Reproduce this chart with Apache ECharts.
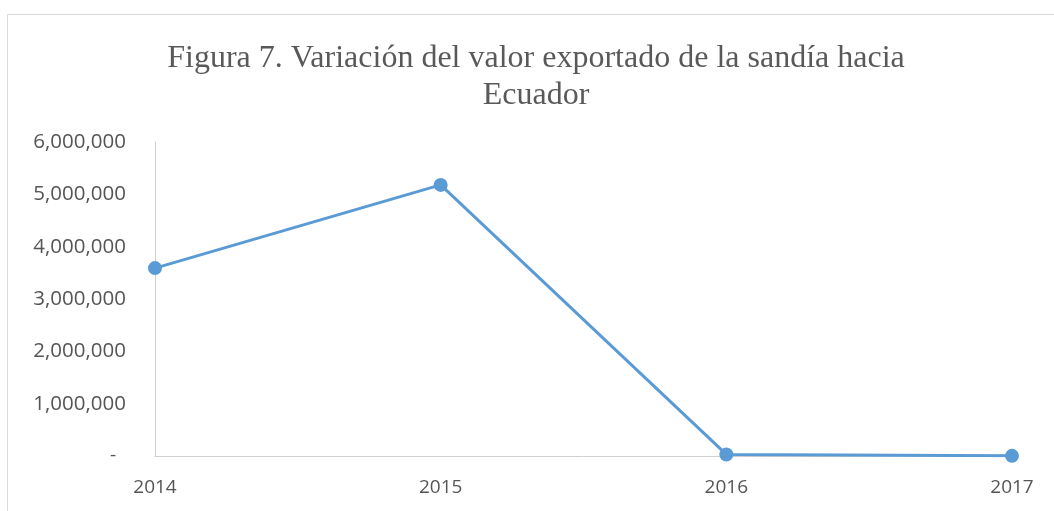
<!DOCTYPE html>
<html>
<head>
<meta charset="utf-8">
<script src="https://cdn.jsdelivr.net/npm/echarts@6/dist/echarts.min.js"></script>
<style>html,body{margin:0;padding:0;background:#fff;}#c{width:1054px;height:511px;}</style>
</head>
<body>
<div id="c"></div>
<script>
const titleText = 'Figura 7. Variación del valor exportado de la sandía hacia\nEcuador';
const categories = ['2014', '2015', '2016', '2017'];
const values = [3590000, 5180000, 30000, 3000];
const yTicks = [0, 1000000, 2000000, 3000000, 4000000, 5000000, 6000000];

const chart = echarts.init(document.getElementById('c'));
chart.setOption({
  animation: false,
  backgroundColor: '#ffffff',
  title: {
    text: titleText,
    left: 531,
    top: 35,
    textAlign: 'center',
    textStyle: {
      fontFamily: 'Liberation Serif',
      fontSize: 32,
      fontWeight: 'normal',
      color: '#595959',
      lineHeight: 37
    }
  },
  graphic: [{
    type: 'rect',
    shape: { x: 7.5, y: 14.5, width: 1200, height: 700 },
    style: { fill: 'none', stroke: '#d9d9d9', lineWidth: 1 },
    silent: true
  }],
  grid: { left: 155, right: 42, top: 142, bottom: 55 },
  xAxis: {
    type: 'category',
    data: categories,
    boundaryGap: false,
    axisLine: { lineStyle: { color: '#d0d0d0', width: 1 } },
    axisTick: { show: false },
    axisLabel: {
      margin: 22,
      fontFamily: 'Open Sans',
      fontSize: 19,
      color: '#555555'
    }
  },
  yAxis: {
    type: 'value',
    min: yTicks[0],
    max: yTicks[yTicks.length - 1],
    interval: yTicks[1] - yTicks[0],
    axisLine: { show: true, lineStyle: { color: '#d0d0d0', width: 1 } },
    axisTick: { show: false },
    splitLine: { show: false },
    axisLabel: {
      margin: 29,
      fontFamily: 'Open Sans',
      fontSize: 20.5,
      color: '#555555',
      formatter: function (v) {
        if (v === 0) return '{d|-}';
        return v.toLocaleString('en-US');
      },
      rich: {
        d: { fontFamily: 'Open Sans', fontSize: 19, color: '#555555', padding: [0, 10, 0, 0] }
      }
    }
  },
  series: [{
    type: 'line',
    data: values,
    symbol: 'circle',
    symbolSize: 14,
    lineStyle: { color: '#5b9bd5', width: 3 },
    itemStyle: { color: '#5b9bd5' }
  }]
});
</script>
</body>
</html>
